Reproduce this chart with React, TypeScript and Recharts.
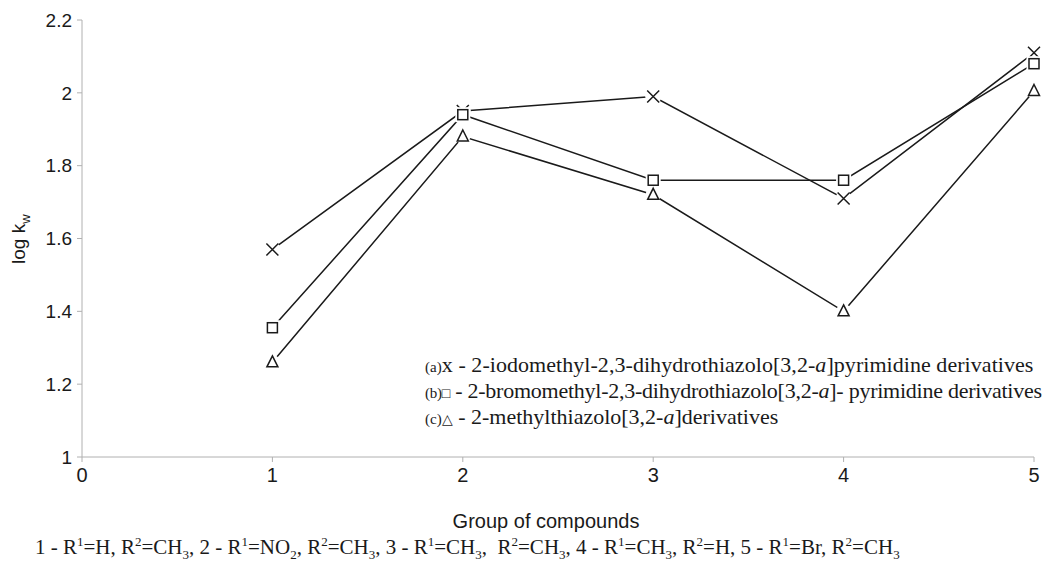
import React from 'react';
import { LineChart, Line, XAxis, YAxis, Label } from 'recharts';

// group of compounds (x) and log kw for the three series
const groups = [1, 2, 3, 4, 5];
const iodomethyl = [1.57, 1.95, 1.99, 1.71, 2.11];
const bromomethyl = [1.355, 1.94, 1.76, 1.76, 2.08];
const methyl = [1.26, 1.88, 1.72, 1.4, 2.005];
const xTicks = [0, 1, 2, 3, 4, 5];
const yTicks = [1, 1.2, 1.4, 1.6, 1.8, 2, 2.2];

const data = groups.map((g, i) => ({
  group: g,
  a: iodomethyl[i],
  b: bromomethyl[i],
  c: methyl[i],
}));

const INK = '#1a1a1a';
const AXIS = '#b0b0b0';

type DotProps = { cx?: number; cy?: number; index?: number };

function CrossDot({ cx, cy, index }: DotProps) {
  if (cx === undefined || cy === undefined) return null;
  const s = 6;
  return (
    <g key={`x-${index}`}>
      <circle cx={cx} cy={cy} r={8} fill="white" />
      <path d={`M${cx - s},${cy - s}L${cx + s},${cy + s}M${cx - s},${cy + s}L${cx + s},${cy - s}`} stroke={INK} strokeWidth={1.5} />
    </g>
  );
}

function SquareDot({ cx, cy, index }: DotProps) {
  if (cx === undefined || cy === undefined) return null;
  const s = 5;
  return (
    <g key={`s-${index}`}>
      <rect x={cx - s - 2.5} y={cy - s - 2.5} width={2 * s + 5} height={2 * s + 5} fill="white" />
      <rect x={cx - s} y={cy - s} width={2 * s} height={2 * s} fill="white" stroke={INK} strokeWidth={1.5} />
    </g>
  );
}

function TriangleDot({ cx, cy, index }: DotProps) {
  if (cx === undefined || cy === undefined) return null;
  const s = 5.5;
  return (
    <g key={`t-${index}`}>
      <circle cx={cx} cy={cy} r={7.5} fill="white" />
      <path d={`M${cx},${cy - s - 1}L${cx + s},${cy + s - 1}L${cx - s},${cy + s - 1}Z`} fill="white" stroke={INK} strokeWidth={1.5} />
    </g>
  );
}

const serif = '"Liberation Serif", "Times New Roman", serif';
const sans = '"Liberation Sans", Arial, sans-serif';
const sup = { fontSize: 13 };

export default function App() {
  return (
    <div style={{ position: 'absolute', left: 0, top: 0, width: 1052, height: 568, background: 'white' }}>
      <LineChart width={1052} height={568} data={data} margin={{ top: 20, right: 18, bottom: 81, left: 22 }}>
        <XAxis
          dataKey="group"
          type="number"
          domain={[0, 5]}
          ticks={xTicks}
          stroke={AXIS}
          tickLine={{ stroke: AXIS }}
          tickSize={5}
          tick={{ fill: INK, fontSize: 20, fontFamily: sans, dy: 4 }}
        >
          <Label value="Group of compounds" position="insideBottom" offset={-41} dx={-12} fill={INK} fontSize={20} fontFamily={sans} />
        </XAxis>
        <YAxis
          type="number"
          domain={[1, 2.2]}
          ticks={yTicks}
          width={60}
          stroke={AXIS}
          tickLine={{ stroke: AXIS }}
          tickSize={5}
          tick={{ fill: INK, fontSize: 19, fontFamily: sans, dx: -3 }}
        />
        <Line dataKey="a" stroke={INK} strokeWidth={1.5} dot={(p: DotProps) => <CrossDot {...p} />} isAnimationActive={false} />
        <Line dataKey="b" stroke={INK} strokeWidth={1.5} dot={(p: DotProps) => <SquareDot {...p} />} isAnimationActive={false} />
        <Line dataKey="c" stroke={INK} strokeWidth={1.5} dot={(p: DotProps) => <TriangleDot {...p} />} isAnimationActive={false} />
      </LineChart>

      <div
        style={{
          position: 'absolute',
          left: 8,
          top: 239,
          transform: 'rotate(-90deg)',
          transformOrigin: 'left top',
          fontFamily: sans,
          fontSize: 19,
          color: INK,
          whiteSpace: 'nowrap',
        }}
      >
        <span style={{ position: 'absolute', left: -25, top: 0 }}>
          log k<sub style={{ fontSize: 13 }}>w</sub>
        </span>
      </div>

      <div style={{ position: 'absolute', left: 425, top: 353, fontFamily: serif, fontSize: 22, color: INK, lineHeight: '23px', whiteSpace: 'nowrap' }}>
        <div style={{ letterSpacing: 0.05 }}>
          <span style={{ fontSize: 15 }}>(a)</span>x - 2-iodomethyl-2,3-dihydrothiazolo[3,2-<i>a</i>]pyrimidine derivatives
        </div>
        <div style={{ letterSpacing: -0.25 }}>
          <span style={{ fontSize: 15 }}>(b)</span><span style={{ fontSize: 14 }}>□</span> - 2-bromomethyl-2,3-dihydrothiazolo[3,2-<i>a</i>]- pyrimidine derivatives
        </div>
        <div>
          <span style={{ fontSize: 15 }}>(c)</span><span style={{ fontSize: 14 }}>△</span> - 2-methylthiazolo[3,2-<i>a</i>]derivatives
        </div>
      </div>

      <div style={{ position: 'absolute', left: 35, top: 534, fontFamily: serif, fontSize: 21, color: INK, whiteSpace: 'nowrap' }}>
        1 - R<sup style={sup}>1</sup>=H, R<sup style={sup}>2</sup>=CH<sub style={sup}>3</sub>, 2 - R
        <sup style={sup}>1</sup>=NO<sub style={sup}>2</sub>, R<sup style={sup}>2</sup>=CH
        <sub style={sup}>3</sub>, 3 - R<sup style={sup}>1</sup>=CH<sub style={sup}>3</sub>, &nbsp;R
        <sup style={sup}>2</sup>=CH<sub style={sup}>3</sub>, 4 - R<sup style={sup}>1</sup>=CH
        <sub style={sup}>3</sub>, R<sup style={sup}>2</sup>=H, 5 - R<sup style={sup}>1</sup>=Br, R
        <sup style={sup}>2</sup>=CH<sub style={sup}>3</sub>
      </div>
    </div>
  );
}
